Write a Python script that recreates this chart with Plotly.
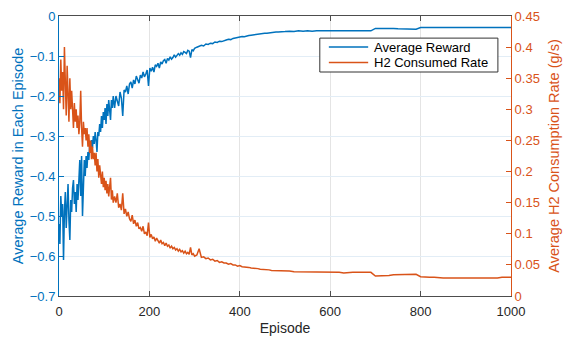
import plotly.graph_objects as go

# Episodes at which the training curves were sampled
episodes = (list(range(0, 121, 2)) + list(range(123, 301, 3)) +
            list(range(305, 501, 5)) + list(range(510, 1001, 10)))

# Average reward per episode (left axis)
avg_reward = [
    # episodes 0-120
    -0.52, -0.57, -0.45, -0.50, -0.47, -0.61, -0.49, -0.44, -0.53, -0.48,
    -0.42, -0.51, -0.56, -0.46, -0.49, -0.43, -0.41, -0.47, -0.44, -0.49,
    -0.42, -0.46, -0.40, -0.36, -0.45, -0.35, -0.50, -0.39, -0.36, -0.40,
    -0.35, -0.38, -0.34, -0.36, -0.32, -0.34, -0.31, -0.33, -0.30, -0.32,
    -0.29, -0.31, -0.34, -0.29, -0.30, -0.27, -0.29, -0.25, -0.28, -0.24,
    -0.26, -0.23, -0.27, -0.22, -0.25, -0.21, -0.24, -0.26, -0.21, -0.23,
    -0.20,
    # episodes 123-300
    -0.23, -0.20, -0.21, -0.225, -0.19, -0.205, -0.25, -0.185, -0.19, -0.175,
    -0.195, -0.17, -0.165, -0.18, -0.16, -0.17, -0.15, -0.158, -0.168, -0.148,
    -0.155, -0.14, -0.152, -0.145, -0.135, -0.175, -0.13, -0.138, -0.128, -0.14,
    -0.122, -0.126, -0.118, -0.13, -0.115, -0.12, -0.112, -0.109, -0.118, -0.106,
    -0.11, -0.102, -0.108, -0.104, -0.097, -0.103, -0.099, -0.094, -0.098, -0.092,
    -0.096, -0.089, -0.091, -0.094, -0.086, -0.088, -0.104, -0.084, -0.087, -0.081,
    # episodes 305-500
    -0.078, -0.076, -0.073, -0.075, -0.070, -0.071, -0.068, -0.069, -0.065, -0.066,
    -0.063, -0.064, -0.061, -0.060, -0.058, -0.059, -0.056, -0.055, -0.054, -0.053,
    -0.051, -0.052, -0.050, -0.049, -0.048, -0.047, -0.047, -0.045, -0.045, -0.044,
    -0.043, -0.043, -0.042, -0.041, -0.041, -0.040, -0.040, -0.040, -0.039, -0.039,
    # episodes 510-1000
    -0.038, -0.039, -0.037, -0.038, -0.037, -0.038, -0.037, -0.037, -0.036, -0.037,
    -0.037, -0.036, -0.037, -0.037, -0.036, -0.037, -0.037, -0.036, -0.037,
    -0.031, -0.031, -0.030, -0.031, -0.031, -0.032, -0.032, -0.033, -0.033, -0.033,
    -0.029, -0.029, -0.028, -0.029, -0.029, -0.028, -0.029, -0.029, -0.028, -0.029,
    -0.029, -0.028, -0.029, -0.028, -0.029, -0.029, -0.028, -0.029, -0.029, -0.028,
    -0.029,
]

# Average H2 consumption rate in g/s (right axis)
h2_rate = [
    # episodes 0-120
    0.35, 0.31, 0.38, 0.33, 0.36, 0.30, 0.40, 0.34, 0.29, 0.37,
    0.32, 0.28, 0.35, 0.30, 0.33, 0.29, 0.27, 0.31, 0.28, 0.30,
    0.27, 0.29, 0.26, 0.28, 0.33, 0.27, 0.24, 0.28, 0.26, 0.27,
    0.25, 0.27, 0.24, 0.26, 0.23, 0.25, 0.22, 0.24, 0.22, 0.23,
    0.21, 0.23, 0.20, 0.22, 0.19, 0.21, 0.195, 0.18, 0.20, 0.175,
    0.19, 0.17, 0.185, 0.165, 0.18, 0.16, 0.175, 0.19, 0.155, 0.17,
    0.15,
    # episodes 123-300
    0.16, 0.15, 0.165, 0.142, 0.148, 0.138, 0.165, 0.132, 0.14, 0.128,
    0.135, 0.124, 0.12, 0.13, 0.116, 0.122, 0.112, 0.118, 0.108, 0.11,
    0.104, 0.112, 0.10, 0.103, 0.097, 0.118, 0.094, 0.099, 0.092, 0.095,
    0.088, 0.093, 0.089, 0.085, 0.09, 0.084, 0.086, 0.081, 0.085, 0.08,
    0.082, 0.077, 0.08, 0.076, 0.078, 0.074, 0.076, 0.072, 0.075, 0.071,
    0.073, 0.069, 0.072, 0.068, 0.07, 0.067, 0.078, 0.066, 0.068, 0.064,
    # episodes 305-500
    0.066, 0.076, 0.062, 0.063, 0.060, 0.061, 0.058, 0.059, 0.056, 0.057,
    0.054, 0.055, 0.053, 0.053, 0.051, 0.052, 0.050, 0.050, 0.048, 0.049,
    0.047, 0.047, 0.046, 0.046, 0.045, 0.045, 0.044, 0.044, 0.043, 0.043,
    0.042, 0.042, 0.042, 0.041, 0.041, 0.041, 0.040, 0.041, 0.040, 0.040,
    # episodes 510-1000
    0.040, 0.039, 0.039, 0.038, 0.039, 0.038, 0.038, 0.039, 0.038, 0.038,
    0.038, 0.038, 0.037, 0.038, 0.038, 0.038, 0.038, 0.038, 0.038,
    0.032, 0.032, 0.033, 0.033, 0.034, 0.034, 0.035, 0.035, 0.035, 0.035,
    0.031, 0.030, 0.030, 0.030, 0.029, 0.029, 0.029, 0.029, 0.028, 0.028,
    0.028, 0.028, 0.028, 0.028, 0.029, 0.029, 0.029, 0.029, 0.030, 0.030,
    0.030,
]

series_names = ["Average Reward", "H2 Consumed Rate"]
x_ticks = [0, 200, 400, 600, 800, 1000]
left_ticks = [0, -0.1, -0.2, -0.3, -0.4, -0.5, -0.6, -0.7]
right_ticks = [0, 0.05, 0.1, 0.15, 0.2, 0.25, 0.3, 0.35, 0.4, 0.45]

BLUE = "#0072BD"
ORANGE = "#D95319"
FONT = "Liberation Sans, Arial, sans-serif"

fig = go.Figure()
fig.add_trace(go.Scatter(x=episodes, y=avg_reward, mode="lines",
                         name=series_names[0],
                         line=dict(color=BLUE, width=1.5)))
fig.add_trace(go.Scatter(x=episodes, y=h2_rate, mode="lines",
                         name=series_names[1], yaxis="y2",
                         line=dict(color=ORANGE, width=1.5)))

# Compact boxed legend in the upper right of the axes
box_x0, box_x1, box_y0, box_y1 = 0.577, 0.971, 0.800, 0.921
row_y = [0.889, 0.834]
shapes = [dict(type="rect", xref="paper", yref="paper",
               x0=box_x0, x1=box_x1, y0=box_y0, y1=box_y1,
               line=dict(color="#333333", width=1), fillcolor="white",
               layer="above")]
annotations = []
for name, color, yy in zip(series_names, [BLUE, ORANGE], row_y):
    shapes.append(dict(type="line", xref="paper", yref="paper",
                       x0=0.597, x1=0.684, y0=yy, y1=yy,
                       line=dict(color=color, width=1.5), layer="above"))
    annotations.append(dict(xref="paper", yref="paper", x=0.693, y=yy,
                            xanchor="left", yanchor="middle", showarrow=False,
                            text=name, font=dict(size=13, color="#000000")))

fig.update_layout(
    width=568, height=340,
    margin=dict(l=59, r=57, t=16, b=44),
    paper_bgcolor="white", plot_bgcolor="white",
    font=dict(family=FONT, size=13, color="#262626"),
    showlegend=False,
    shapes=shapes,
    annotations=annotations,
    xaxis=dict(
        range=[0, 1000], tickvals=x_ticks, automargin=False,
        title=dict(text="Episode", font=dict(size=14), standoff=5),
        ticklabelstandoff=3,
        showgrid=True, gridcolor="#E4E4E4", gridwidth=1,
        showline=True, linecolor="#4D4D4D", linewidth=1, mirror="ticks",
        ticks="inside", ticklen=5, tickcolor="#4D4D4D",
        zeroline=False,
    ),
    yaxis=dict(
        range=[-0.7, 0], tickvals=left_ticks, automargin=False,
        tickformat="~g",
        title=dict(text="Average Reward in Each Episode",
                   font=dict(size=14.5, color=BLUE), standoff=2),
        tickfont=dict(color=BLUE),
        showgrid=True, gridcolor="#E2EDF6", gridwidth=1,
        showline=True, linecolor=BLUE, linewidth=1,
        ticks="inside", ticklen=5, tickcolor=BLUE,
        zeroline=False,
    ),
    yaxis2=dict(
        range=[0, 0.45], tickvals=right_ticks, automargin=False,
        tickformat="~g",
        overlaying="y", side="right",
        title=dict(text="Average H2 Consumption Rate (g/s)",
                   font=dict(size=14.5, color=ORANGE), standoff=9),
        tickfont=dict(color=ORANGE),
        showgrid=False,
        showline=True, linecolor=ORANGE, linewidth=1,
        ticks="inside", ticklen=5, tickcolor=ORANGE,
        zeroline=False,
    ),
)

fig.write_html("out.html")
